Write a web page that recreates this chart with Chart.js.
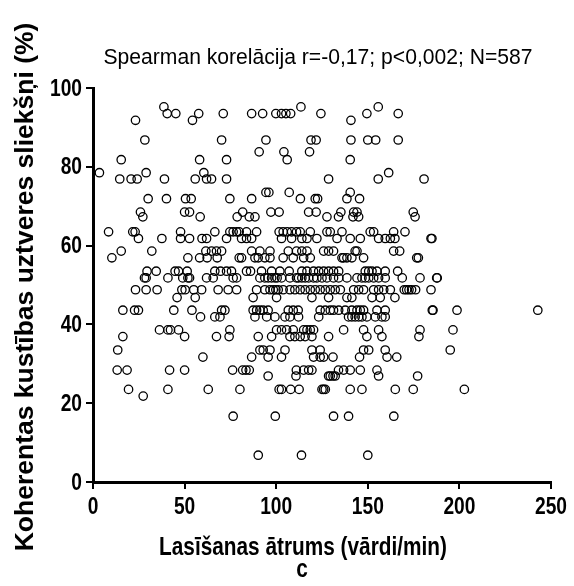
<!DOCTYPE html>
<html>
<head>
<meta charset="utf-8">
<script src="https://cdn.jsdelivr.net/npm/chart.js@4.4.0/dist/chart.umd.min.js"></script>
<style>
  html, body { margin: 0; padding: 0; background: #fff; }
  #chart { display: block; }
</style>
</head>
<body>
<canvas id="chart" width="574" height="586"></canvas>
<script>
const thresholdLevels = [95.2, 93.5, 91.8, 86.8, 83.8, 81.8, 78.5, 76.9, 73.5, 71.9, 68.5, 67.3,
  63.5, 61.8, 58.6, 56.9, 53.5, 51.8, 48.8, 46.8, 43.6, 41.9, 38.6, 36.9, 33.5, 31.7,
  28.4, 26.9, 23.5, 21.8, 16.7, 6.8]

const speedsAtLevel = [
  [38.7, 113.5, 155.7],
  [40.5, 45.2, 57.7, 71.1, 86.6, 92.6, 99.8, 102.9, 105.3, 107.9, 124.4, 149.5, 166.6],
  [23.2, 54.3, 140.8],
  [28.3, 70.2, 94.4, 119, 121.8, 140.8, 150, 154.3, 166.6],
  [90.7, 104.2, 118.2],
  [15.4, 58.2, 72.9, 106, 140.4],
  [3.5, 29, 60.5, 161.4],
  [14.6, 20.8, 24.1, 39, 55.8, 62, 64.7, 72.9, 128.6, 155.7, 180.7],
  [94.4, 96, 107.1, 140.4],
  [30.1, 40.1, 50.5, 53.6, 74.7, 86.6, 113.2, 121.3, 122.6, 138.6, 145.5],
  [25.9, 50, 52.7, 81.7, 97.1, 101.6, 117.7, 121.8, 135.3, 142.3, 144.1, 174.8],
  [27.2, 58.5, 78.7, 85.3, 88.4, 127.7, 134, 141.9, 145, 175.8],
  [8.5, 21.7, 23, 47.8, 66.5, 74.7, 76.5, 78.4, 79.8, 83.8, 89.3, 101.6, 103.8, 106, 108.4,
    111.1, 113.1, 118.6, 127.7, 129.5, 135.9, 151.3, 153.2, 164.1, 170.3],
  [24.8, 37.6, 47.8, 52.7, 59.5, 62, 72.9, 81.1, 83.8, 86.6, 102.9, 108.4, 114, 116.8, 122.2,
    133.2, 140.4, 145.9, 155.9, 159.5, 162.3, 164.8, 184.5, 185],
  [15.4, 32.1, 61.6, 64.7, 67.4, 70.2, 86.6, 91.1, 96.6, 106.6, 111.1, 114, 116.8, 125.9,
    128.6, 131.3, 143.1, 144.1, 164.1, 167.4],
  [10.3, 51.8, 58.2, 62.3, 67.8, 79.8, 81.1, 88.4, 90.2, 93.8, 96.6, 103.8, 109.3, 115, 118.6,
    135.9, 136.8, 138.6, 141.3, 147.7, 176.7, 177.6],
  [29.5, 34.5, 44.8, 46.7, 51.4, 66.5, 69.6, 72.9, 75.6, 83.8, 86, 92, 97.5, 102, 107.1, 114,
    116.8, 120.4, 123.2, 125.9, 128.6, 131.3, 134.1, 148.6, 150.5, 152.3, 155, 159.5, 166.3],
  [28.1, 29, 40.9, 49, 51.8, 52.7, 62, 65.6, 76.5, 78.4, 91.1, 93.8, 95.6, 97.5, 99.3, 100.5,
    102.9, 107.5, 111.1, 112.2, 114, 115.8, 117.7, 120.4, 122.2, 125, 127.7, 131.3, 134.1,
    138.6, 144.1, 146.8, 148.6, 150.5, 153.2, 155.9, 159.5, 168.8, 178.5, 187.6, 187.9],
  [23.2, 29, 35, 48.5, 50.3, 55, 59.3, 68.3, 73.8, 78.4, 89.3, 93.8, 96.6, 98.4, 99.8, 101.1,
    103.8, 107.5, 110.2, 113.1, 115.8, 118.6, 121.3, 124, 126.8, 129.5, 132.2, 135, 142.3,
    145, 147.7, 153.2, 155.9, 158.7, 162.3, 169.9, 171.2, 172.5, 173.9, 176.1, 184.5],
  [45.9, 55.8, 87.4, 100.2, 119.5, 128.6, 138.6, 141.3, 152.3, 156.8, 164.8],
  [16.3, 22.7, 24.8, 44.1, 54, 70.2, 72, 87.4, 89.3, 91.1, 92.9, 95.6, 106.6, 109.3, 112, 124,
    126.8, 129.5, 131.3, 134.1, 137.7, 141.3, 144.1, 145.9, 147.7, 155, 159.5, 185.2, 185.6,
    198.7, 242.8],
  [58.7, 66.5, 69.3, 88.4, 94.8, 99.3, 104.8, 107.5, 112.2, 123.2, 139.5, 141.3, 143.1, 145,
    146.8, 149.5, 154.1, 157.7, 159.5],
  [36.3, 40.9, 42.3, 46.7, 74.7, 100.2, 102.9, 105.7, 109.3, 115, 116.8, 118.6, 120.4, 136.8,
    147.7, 155.9, 178.5, 196.5],
  [16.3, 50, 67.4, 74.3, 90.2, 97.5, 107.5, 110.2, 113.1, 115.8, 119.5, 128.6, 149.5, 157.7, 177.9],
  [13.5, 91.1, 92.9, 96.6, 104.8, 119.5, 124, 147.7, 150.5, 159.5, 195],
  [60, 86.6, 95.6, 102.9, 120.4, 124, 125.9, 131, 145.5, 160.5, 165.8],
  [13.2, 18.6, 41.8, 50, 76.2, 81.7, 83.5, 85.3, 111, 115, 117.7, 119.5, 134, 136.8, 140.4, 145.9, 155],
  [95.6, 110.8, 128.6, 129.5, 131, 132.2, 155.9, 177.2],
  [19.4, 40.9, 62.9, 80.2, 101.6, 102.9, 107.9, 112.5, 125, 125.9, 126.8, 140.4, 146.8, 165, 174.8, 202.7],
  [27.4],
  [76.5, 99.5, 131.3, 139.5, 164.2],
  [90.2, 113.8, 150]
]

const xTicks = [0, 50, 100, 150, 200, 250]
const yTicks = [0, 20, 40, 60, 80, 100]

const titleText = "Spearman korelācija r=-0,17; p<0,002; N=587"
const xTitle = "Lasīšanas ātrums (vārdi/min)"
const yTitle = "Koherentas kustības uztveres sliekšņi (%)"
const panelLabel = "c"

const points = []
thresholdLevels.forEach((lvl, i) => {
    speedsAtLevel[i].forEach(s => points.push({ x: s, y: lvl }))
})

const FONT = "'Liberation Sans', Arial, sans-serif"

// the original text is a bit condensed, so squeeze it sideways
function squeezedText(ctx, txt, x, y, sx) {
    ctx.save()
    ctx.translate(x, y)
    ctx.scale(sx, 1)
    ctx.fillText(txt, 0, 0)
    ctx.restore()
}

const textPlugin = {
    id: "texts",
    afterDraw(chart) {
        const ctx = chart.ctx
        const xs = chart.scales.x
        const ys = chart.scales.y
        ctx.save()
        ctx.fillStyle = "#000"

        // tick labels
        ctx.font = "bold 24px " + FONT
        ctx.textAlign = "center"
        ctx.textBaseline = "middle"
        xTicks.forEach(v => squeezedText(ctx, String(v), xs.getPixelForValue(v), 507, 0.8))
        ctx.textAlign = "right"
        yTicks.forEach(v => squeezedText(ctx, String(v), 82, ys.getPixelForValue(v) + 1, 0.8))

        ctx.textAlign = "center"
        ctx.textBaseline = "alphabetic"
        ctx.font = "22px " + FONT
        squeezedText(ctx, titleText, 318, 64, 0.96)

        ctx.font = "bold 26px " + FONT
        squeezedText(ctx, xTitle, 303, 555, 0.8)
        squeezedText(ctx, panelLabel, 302, 577, 0.8)

        ctx.translate(33, 287)
        ctx.rotate(-Math.PI / 2)
        ctx.font = "bold 26.5px " + FONT
        ctx.fillText(yTitle, 0, 0)
        ctx.restore()
    }
}

new Chart(document.getElementById("chart"), {
    type: "scatter",
    data: {
        datasets: [{
            data: points,
            pointStyle: "circle",
            pointRadius: 4.2,
            pointBorderWidth: 1.3,
            pointBorderColor: "#000",
            pointBackgroundColor: "rgba(0,0,0,0)"
        }]
    },
    options: {
        responsive: false,
        animation: false,
        devicePixelRatio: 1,
        layout: { padding: { top: 88, right: 23, bottom: 0, left: 0 } },
        plugins: {
            legend: { display: false },
            tooltip: { enabled: false }
        },
        scales: {
            x: {
                type: "linear",
                min: 0,
                max: 250,
                afterBuildTicks: (s) => { s.ticks = xTicks.map(v => ({ value: v })) },
                afterFit: (s) => { s.height = 104 },
                border: { color: "#000", width: 3 },
                grid: { drawOnChartArea: false, color: "#000", lineWidth: 2, tickLength: 7 },
                ticks: { display: false }
            },
            y: {
                type: "linear",
                min: 0,
                max: 100,
                afterBuildTicks: (s) => { s.ticks = yTicks.map(v => ({ value: v })) },
                afterFit: (s) => { s.width = 93 },
                border: { color: "#000", width: 3 },
                grid: { drawOnChartArea: false, color: "#000", lineWidth: 2, tickLength: 7 },
                ticks: { display: false }
            }
        }
    },
    plugins: [textPlugin]
})
</script>
</body>
</html>
